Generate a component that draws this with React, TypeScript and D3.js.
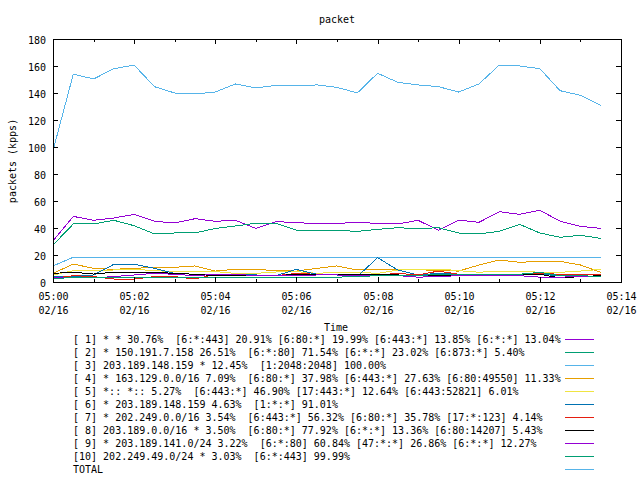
import * as d3 from 'd3';
import { useEffect, useRef } from 'react';

const times = [
  '05:00:00', '05:00:30', '05:01:00', '05:01:30', '05:02:00', '05:02:30', '05:03:00',
  '05:03:30', '05:04:00', '05:04:30', '05:05:00', '05:05:30', '05:06:00', '05:06:30',
  '05:07:00', '05:07:30', '05:08:00', '05:08:30', '05:09:00', '05:09:30', '05:10:00',
  '05:10:30', '05:11:00', '05:11:30', '05:12:00', '05:12:30', '05:13:00', '05:13:30',
];

const s1 = [30.4, 48.6, 45.7, 47.4, 50.1, 45, 43.7, 46.9, 45, 45.7, 39.7, 44.7, 44, 43.2, 43.5, 44, 43.5, 43, 45.7, 38.3, 45.9, 44.2, 52.1, 50.1, 53.1, 45, 41.2, 39.7];
const s2 = [27.4, 43, 43, 45.7, 41.7, 35.6, 36.3, 36.3, 39.7, 41.5, 43.5, 43.5, 38.3, 38.3, 38.3, 37.5, 39, 40.2, 39.5, 40.2, 36.3, 35.6, 37.5, 42.7, 36.3, 33.1, 34.6, 32.3];
const s3 = [11.9, 18.3, 18.3, 18.3, 18.3, 18.3, 18.3, 18.3, 18.3, 18.3, 18.3, 18.3, 18.3, 18.3, 18.3, 18.3, 18.3, 18.3, 18.3, 17.8, 18.3, 18.3, 18.3, 18.3, 18.3, 18.3, 18.3, 18.3];
const s4 = [6.4, 13.3, 10.1, 9.4, 10.1, 10.9, 10.9, 11.9, 8.1, 9.4, 9.4, 8.4, 8.1, 10.1, 11.9, 8.9, 8.9, 8.9, 9.2, 8.4, 8.1, 12.6, 16.3, 14.6, 15.3, 15.3, 12.6, 7.2];
const s5 = [5.2, 8.4, 8.4, 8.9, 9.4, 8.4, 7.7, 7.7, 7.7, 6.4, 6.4, 7.4, 7.7, 6.4, 7.2, 7.2, 6.4, 8.9, 9.6, 9.6, 8.4, 7.2, 8.1, 8.1, 7.2, 7.2, 8.1, 9.4];
const s6 = [4, 4, 5.2, 13.1, 13.1, 10.1, 6.4, 5.7, 5.2, 5.2, 5.2, 4.7, 9.4, 5.7, 5.2, 4, 18, 8.9, 5.2, 6.4, 5.7, 5.2, 5.7, 5.7, 5.7, 4.7, 4.7, 4];
const s7 = [2.7, 4.7, 4, 2.2, 2.2, 4, 4, 2.2, 5.7, 5.7, 4.7, 4.7, 6.4, 5.7, 5.7, 5.7, 5.2, 6.4, 5.2, 8.1, 5.7, 5.7, 5.7, 5.7, 6.4, 5.7, 5.7, 5.7];
const s8 = [6.4, 7.2, 5.9, 7.2, 7.2, 7.2, 6.4, 5.7, 4.7, 4.7, 4.7, 4.7, 5.7, 5.7, 5.7, 5.7, 5.2, 5.2, 4.7, 4.7, 4.7, 4.7, 4.7, 5.7, 5.7, 3, 4, 4.7];
const s9 = [3.1, 3.1, 3.1, 4, 5.2, 6.4, 5.7, 4.7, 5.7, 5.7, 4.7, 4.7, 4.7, 5.2, 5.2, 4.7, 4.7, 4.7, 3.6, 4, 4.7, 4.7, 4.7, 4.7, 3.6, 3.6, 4, 4];
const s10 = [2.2, 3.6, 3.6, 3.6, 3.6, 3.6, 3.6, 3.6, 3, 3, 3.6, 3.6, 3.6, 3.6, 3.6, 4, 4.7, 4.7, 4.7, 5.7, 5.7, 5.7, 5.7, 5.7, 7.2, 4.7, 4.7, 4];
const total = [97.3, 154, 150.4, 158, 160.7, 144.7, 140, 139.3, 140.7, 146.7, 143.7, 145.7, 145.2, 146, 144.2, 140, 154.6, 147.9, 146, 144.7, 140.7, 146.7, 160.7, 160, 158, 141.7, 138.3, 130.9];

const seriesLabels = [
  '[ 1] * * 30.76%  [6:*:443] 20.91% [6:80:*] 19.99% [6:443:*] 13.85% [6:*:*] 13.04%',
  '[ 2] * 150.191.7.158 26.51%  [6:*:80] 71.54% [6:*:*] 23.02% [6:873:*] 5.40%',
  '[ 3] 203.189.148.159 * 12.45%  [1:2048:2048] 100.00%',
  '[ 4] * 163.129.0.0/16 7.09%  [6:80:*] 37.98% [6:443:*] 27.63% [6:80:49550] 11.33%',
  '[ 5] *:: *:: 5.27%  [6:443:*] 46.90% [17:443:*] 12.64% [6:443:52821] 6.01%',
  '[ 6] * 203.189.148.159 4.63%  [1:*:*] 91.01%',
  '[ 7] * 202.249.0.0/16 3.54%  [6:443:*] 56.32% [6:80:*] 35.78% [17:*:123] 4.14%',
  '[ 8] 203.189.0.0/16 * 3.50%  [6:80:*] 77.92% [6:*:*] 13.36% [6:80:14207] 5.43%',
  '[ 9] * 203.189.141.0/24 3.22%  [6:*:80] 60.84% [47:*:*] 26.86% [6:*:*] 12.27%',
  '[10] 202.249.49.0/24 * 3.03%  [6:*:443] 99.99%',
  'TOTAL',
];

const colors = ['#9400d3', '#009e73', '#56b4e9', '#e69f00', '#f0e442', '#0072b2', '#e51e10', '#000000', '#9400d3', '#009e73', '#56b4e9'];

const yTicks = [0, 20, 40, 60, 80, 100, 120, 140, 160, 180];

export default function App() {
  const svgRef = useRef<SVGSVGElement>(null);

  useEffect(() => {
    const svg = d3.select(svgRef.current);
    svg.selectAll('*').remove();

    const left = 53, right = 621, top = 39, bottom = 282;
    const font = '"DejaVu Sans Mono", monospace';
    const parse = d3.timeParse('%H:%M:%S');
    const dates = times.map(t => parse(t) as Date);

    const x = d3.scaleTime()
      .domain([parse('05:00:00') as Date, parse('05:14:00') as Date])
      .range([left, right]);
    const y = d3.scaleLinear().domain([0, 180]).range([bottom, top]);

    const all = [s1, s2, s3, s4, s5, s6, s7, s8, s9, s10, total];

    // title + axis labels
    svg.append('text').attr('x', 337).attr('y', 23).attr('text-anchor', 'middle')
      .attr('font-family', font).attr('font-size', 10).text('packet');
    svg.append('text').attr('transform', 'translate(16,161) rotate(-90)')
      .attr('text-anchor', 'middle').attr('font-family', font).attr('font-size', 10)
      .text('packets (kpps)');
    svg.append('text').attr('x', 336).attr('y', 331).attr('text-anchor', 'middle')
      .attr('font-family', font).attr('font-size', 10).text('Time');

    // lines (aliased, like the png terminal)
    const line = d3.line<number>()
      .x((_, i) => x(dates[i]))
      .y(d => y(d));
    all.forEach((s, k) => {
      svg.append('path').datum(s)
        .attr('fill', 'none').attr('stroke', colors[k]).attr('stroke-width', 1)
        .attr('shape-rendering', 'crispEdges')
        .attr('d', line);
    });

    const axis = svg.append('g').attr('shape-rendering', 'crispEdges');

    // y ticks, mirrored
    yTicks.forEach(v => {
      const yy = Math.round(y(v)) + 0.5;
      axis.append('line').attr('x1', left).attr('x2', left + 5).attr('y1', yy).attr('y2', yy).attr('stroke', '#000');
      axis.append('line').attr('x1', right - 5).attr('x2', right).attr('y1', yy).attr('y2', yy).attr('stroke', '#000');
      svg.append('text').attr('x', 46).attr('y', yy + 4).attr('text-anchor', 'end')
        .attr('font-family', font).attr('font-size', 10).text(v);
    });

    // x ticks: major every 2 min, minor every minute
    const minutes = x.ticks(d3.timeMinute.every(1) as d3.TimeInterval);
    minutes.forEach(m => {
      const major = m.getMinutes() % 2 === 0;
      const len = major ? 5 : 3;
      const xx = Math.round(x(m)) + 0.5;
      axis.append('line').attr('x1', xx).attr('x2', xx).attr('y1', bottom).attr('y2', bottom - len).attr('stroke', '#000');
      axis.append('line').attr('x1', xx).attr('x2', xx).attr('y1', top).attr('y2', top + len).attr('stroke', '#000');
      if (major) {
        svg.append('text').attr('x', xx).attr('y', 300).attr('text-anchor', 'middle')
          .attr('font-family', font).attr('font-size', 10).text(d3.timeFormat('%H:%M')(m));
        svg.append('text').attr('x', xx).attr('y', 314).attr('text-anchor', 'middle')
          .attr('font-family', font).attr('font-size', 10).text('02/16');
      }
    });

    axis.append('rect').attr('x', left + 0.5).attr('y', top + 0.5)
      .attr('width', right - left).attr('height', bottom - top)
      .attr('fill', 'none').attr('stroke', '#000');

    // legend
    seriesLabels.forEach((lab, k) => {
      const yy = 339 + k * 13;
      svg.append('text').attr('x', 73).attr('y', yy + 4)
        .attr('font-family', font).attr('font-size', 10)
        .attr('xml:space', 'preserve').style('white-space', 'pre').text(lab);
      svg.append('line').attr('x1', 565).attr('x2', 594).attr('y1', yy + 0.5).attr('y2', yy + 0.5)
        .attr('stroke', colors[k]).attr('shape-rendering', 'crispEdges');
    });
  }, []);

  return (
    <svg ref={svgRef} width={640} height={480}
      style={{ position: 'absolute', left: 0, top: 0, background: '#fff' }} />
  );
}
